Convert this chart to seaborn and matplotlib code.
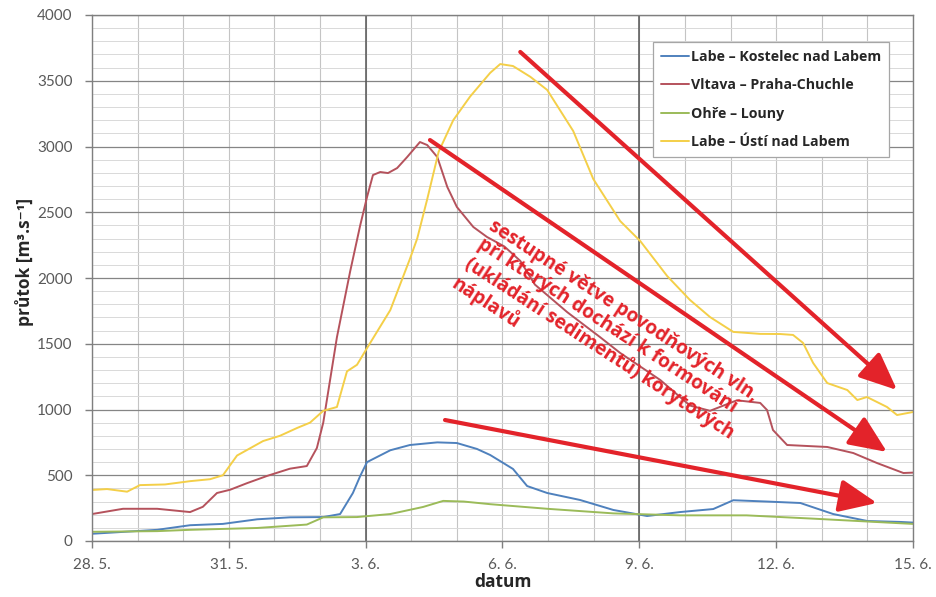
import matplotlib
matplotlib.use("Agg")
import matplotlib.pyplot as plt
from matplotlib.ticker import MultipleLocator, FixedLocator
import pandas as pd
import seaborn as sns

# Průtoky během povodně (dny od 28. 5.), m3/s
labe_kostelec_den = [0, 1.43, 2.15, 2.87, 3.62, 4.34, 5.07, 5.44, 5.72, 5.88, 6.03, 6.54,
                     6.97, 7.57, 8.00, 8.44, 8.73, 9.23, 9.54, 9.98, 10.70, 11.43, 12.17,
                     12.89, 13.62, 14.06, 14.80, 15.53, 16.25, 17.00, 17.72, 18.0]
labe_kostelec = [55, 85, 120, 130, 165, 180, 182, 205, 365, 494, 600, 690,
                 730, 750, 745, 700, 654, 548, 418, 365, 312, 236, 190,
                 220, 243, 310, 300, 289, 205, 152, 145, 140]

vltava_den = [0, 0.68, 1.43, 2.15, 2.43, 2.74, 3.03, 3.40, 3.84, 4.34, 4.71, 4.93,
              5.07, 5.37, 5.66, 5.88, 6.03, 6.16, 6.32, 6.49, 6.69, 6.91, 7.19, 7.35,
              7.57, 7.79, 8.00, 8.36, 8.66, 9.04, 9.39, 9.71, 10.42, 11.14, 11.58,
              12.46, 13.11, 13.55, 14.14, 14.65, 14.80, 14.93, 15.24, 16.12, 16.69,
              17.21, 17.79, 18.0]
vltava = [205, 245, 245, 220, 260, 365, 390, 440, 495, 550, 570, 707,
          900, 1550, 2050, 2400, 2616, 2783, 2806, 2798, 2836, 2920, 3034, 3011,
          2920, 2692, 2540, 2388, 2312, 2240, 2130, 1950, 1740, 1550, 1430,
          1224, 1030, 990, 1070, 1050, 996, 844, 730, 715, 669,
          593, 517, 520]

ohre_den = [0, 1.43, 2.15, 3.62, 4.71, 5.07, 5.81, 6.54, 7.26, 7.70, 8.15, 8.73,
            9.98, 11.43, 12.89, 14.35, 15.81, 17.72, 18.0]
ohre = [70, 75, 85, 99, 125, 180, 182, 205, 259, 305, 300, 280,
        245, 210, 195, 195, 170, 135, 130]

labe_usti_den = [0, 0.33, 0.77, 1.05, 1.60, 2.15, 2.59, 2.87, 3.18, 3.75, 4.12, 4.50,
                 4.78, 5.07, 5.37, 5.59, 5.81, 6.03, 6.54, 6.97, 7.13, 7.35, 7.60,
                 7.92, 8.29, 8.73, 8.95, 9.23, 9.61, 9.98, 10.55, 10.99, 11.58, 12.02,
                 12.61, 13.11, 13.55, 14.06, 14.65, 15.09, 15.37, 15.59, 15.81, 16.12,
                 16.56, 16.78, 16.99, 17.43, 17.65, 18.0]
labe_usti = [388, 395, 375, 425, 430, 455, 470, 500, 650, 760, 800, 860,
             900, 990, 1019, 1290, 1340, 1467, 1756, 2145, 2300, 2600, 2960,
             3200, 3380, 3560, 3627, 3612, 3530, 3430, 3118, 2753, 2433, 2281,
             2015, 1833, 1703, 1590, 1575, 1574, 1567, 1506, 1354, 1201,
             1148, 1072, 1095, 1019, 958, 981]

stanice = ["Labe – Kostelec nad Labem", "Vltava – Praha-Chuchle",
           "Ohře – Louny", "Labe – Ústí nad Labem"]
barvy = ["#4f81bd", "#b5525c", "#9bbb59", "#f4cf48"]

tick_dny = [0, 3, 6, 9, 12, 15, 18]
tick_popisky = ["28. 5.", "31. 5.", "3. 6.", "6. 6.", "9. 6.", "12. 6.", "15. 6."]

popis_radky = ["sestupné větve povodňových vln,",
               "při kterých dochází k formování",
               "(ukládání sedimentů) korytových",
               "náplavů"]

# šipky: (začátek, konec) v souřadnicích grafu
sipky = [((9.39, 3719), (17.65, 1148)),
         ((7.41, 3049), (17.43, 677)),
         ((7.74, 920), (17.21, 289))]

frames = []
for nazev, d, q in zip(stanice,
                       [labe_kostelec_den, vltava_den, ohre_den, labe_usti_den],
                       [labe_kostelec, vltava, ohre, labe_usti]):
    frames.append(pd.DataFrame({"den": d, "prutok": q, "stanice": nazev}))
df = pd.concat(frames, ignore_index=True)

sns.set_style("white")
plt.rcParams["font.family"] = ["Lato", "DejaVu Sans"]
popisky_font = ["Open Sans", "DejaVu Sans"]

fig = plt.figure(figsize=(9.36, 5.97), dpi=100)
ax = fig.add_axes([92 / 936, 1 - 541 / 597, 821 / 936, 526 / 597])

sns.lineplot(data=df, x="den", y="prutok", hue="stanice", hue_order=stanice,
             palette=dict(zip(stanice, barvy)), estimator=None, sort=False,
             lw=1.4, ax=ax)

ax.set_xlim(0, 18)
ax.set_ylim(0, 4000)
ax.yaxis.set_major_locator(MultipleLocator(500))
ax.yaxis.set_minor_locator(MultipleLocator(100))
ax.xaxis.set_major_locator(FixedLocator(tick_dny))
ax.xaxis.set_minor_locator(MultipleLocator(1))
ax.set_xticklabels(tick_popisky)

ax.set_axisbelow(True)
ax.grid(which="major", axis="y", color="#858585", lw=0.9)
ax.grid(which="minor", axis="y", color="#d9d9d9", lw=0.7)
ax.grid(which="both", axis="x", color="#c4c4c4", lw=0.8)
for d in (6, 12):
    ax.axvline(d, color="#555555", lw=1.1, zorder=1)

for s in ax.spines.values():
    s.set_visible(True)
    s.set_color("#7f7f7f")
    s.set_linewidth(1.0)

ax.tick_params(axis="both", which="major", length=5, width=1, color="#7f7f7f",
               labelcolor="#595959", labelsize=11, direction="out",
               bottom=True, left=True)
ax.tick_params(axis="x", which="major", pad=7)
ax.tick_params(axis="y", which="major", pad=9)
ax.tick_params(axis="both", which="minor", length=0)

ax.set_ylabel("průtok [m³.s⁻¹]", fontsize=12.5, fontweight="bold", color="#262626",
              va="center", family=popisky_font)
ax.yaxis.set_label_coords(-0.082, 0.53)
ax.set_xlabel("datum", fontsize=12.5, fontweight="bold", color="#262626",
              va="center", family=popisky_font)
ax.xaxis.set_label_coords(0.5, -0.078)

leg0 = ax.get_legend()
handles = leg0.legend_handles
labels = [t.get_text() for t in leg0.get_texts()]
leg0.remove()
for h in handles:
    h.set_linewidth(1.4)
leg = ax.legend(handles, labels, loc="upper left", bbox_to_anchor=(0.683, 0.949),
                frameon=True, fancybox=False, framealpha=1, edgecolor="#a6a6a6",
                prop={"weight": "bold", "size": 10.2, "family": popisky_font},
                handlelength=2.0, handletextpad=0.15, labelspacing=1.02,
                borderpad=0.55, borderaxespad=0)
leg.get_frame().set_linewidth(0.9)
for t in leg.get_texts():
    t.set_color("#262626")

cervena = "#e3232a"
for (x0, y0), (x1, y1) in sipky:
    ax.annotate("", xy=(x1, y1), xytext=(x0, y0),
                arrowprops=dict(arrowstyle="-|>,head_length=23,head_width=10",
                                mutation_scale=1, color=cervena, lw=3,
                                shrinkA=0, shrinkB=0),
                zorder=6)

ax.text(8.86, 2470, "\n".join(popis_radky), rotation=-33, rotation_mode="anchor",
        ha="left", va="top", color=cervena, fontsize=13.8, fontweight="bold",
        family=popisky_font, linespacing=1.1, zorder=5)

fig.savefig("out.png", dpi=100)
